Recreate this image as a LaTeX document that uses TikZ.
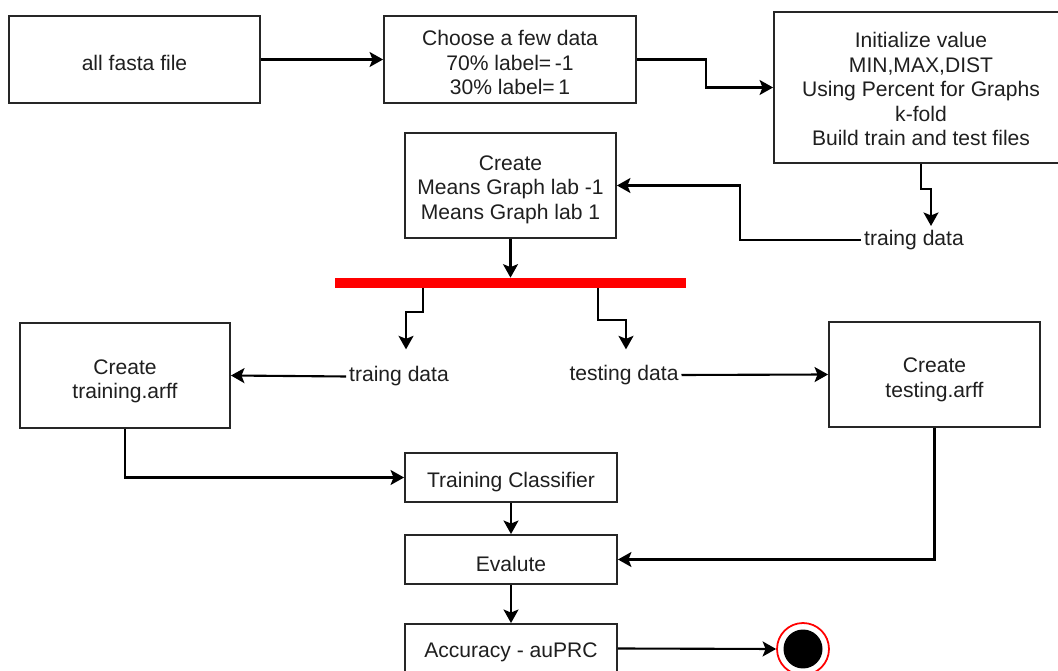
\documentclass[tikz,border=0pt]{standalone}
\usepackage{fontspec}
\setmainfont{Liberation Sans}
\usetikzlibrary{arrows.meta,calc}

\begin{document}
\begin{tikzpicture}[x=0.02cm, y=-0.02cm,
  every node/.style={font=\fontsize{12}{13.9}\selectfont, text=black!88},
  box/.style={draw=black!85, line width=1.1pt, fill=white, inner sep=0pt},
  txt/.style={align=center, inner sep=0pt, yshift=-0.085cm},
  lbl/.style={inner sep=1.5pt},
  arr/.style={draw=black, line width=1.2pt, -{Stealth[length=0.27cm, width=0.3cm, inset=0.06cm]}}]

  \useasboundingbox (0,0) rectangle (1058,671);
  \clip (0,0) rectangle (1058,671);

  % process boxes
  \node[box, minimum width=5.02cm, minimum height=1.74cm] (fasta) at (134.5,59.5) {};
  \node[box, minimum width=5.04cm, minimum height=1.74cm] (choose) at (510,59.5) {};
  \node[box, minimum width=5.88cm, minimum height=3.02cm] (init) at (921,87.5) {};
  \node[box, minimum width=4.22cm, minimum height=2.1cm] (means) at (510.5,185.5) {};
  \node[box, minimum width=4.2cm, minimum height=2.1cm] (trarff) at (125,375.5) {};
  \node[box, minimum width=4.22cm, minimum height=2.1cm] (tsarff) at (934.5,374.5) {};
  \node[box, minimum width=4.24cm, minimum height=0.98cm] (classif) at (511,477.5) {};
  \node[box, minimum width=4.24cm, minimum height=0.98cm] (evalute) at (511,559.5) {};
  \node[box, minimum width=4.24cm, minimum height=0.98cm] (acc) at (511,648.5) {};

  % box texts
  \node[txt, yshift=0.02cm] (fasta-t) at (fasta.center) {all fasta file};
  \node[txt, yshift=0.02cm] (choose-t) at (choose.center) {Choose a few data\\70\% label=\,-1\\30\% label=\,1};
  \node[txt, yshift=0.05cm] (init-t) at (init.center)
    {Initialize value\\MIN,MAX,DIST\\Using Percent for Graphs\\k-fold\\Build train and test files};
  \node[txt] (means-t) at (means.center) {Create\\Means Graph lab -1\\Means Graph lab 1};
  \node[txt, yshift=-0.03cm] (trarff-t) at (trarff.center) {Create\\training.arff};
  \node[txt, yshift=-0.02cm] (tsarff-t) at (tsarff.center) {Create\\testing.arff};
  \node[txt] (classif-t) at (classif.center) {Training Classifier};
  \node[txt] (evalute-t) at (evalute.center) {Evalute};
  \node[txt] (acc-t) at (acc.center) {Accuracy - auPRC};

  % fork bar
  \node[fill=red, minimum width=7.02cm, minimum height=0.2cm, inner sep=0pt] (fork) at (510.5,283) {};

  % data labels
  \node[lbl] (trtop) at (914,240) {traing data};
  \node[lbl] (trmid) at (399,376.5) {traing data};
  \node[lbl] (tsmid) at (624,375) {testing data};

  % final state
  \node[circle, draw=red, line width=1pt, fill=white, minimum size=1.04cm, inner sep=0pt] (final) at (803,649) {};
  \fill[black] (final.center) circle (0.39cm);

  % connectors
  \draw[arr] (fasta.east) -- (choose.west);
  \draw[arr] (choose.east) -- (706,59.5) |- (init.west);
  \draw[arr] (init.south) -- ++(0,25) -- ++(10,0) -- ++(0,37);
  \draw[arr] (trtop.west) -| (740,212) |- (means.east);
  \draw[arr] (means.south) -- (fork.north);
  \draw[arr] ([xshift=-1.75cm]fork.south) -- ++(0,24) -- ++(-17,0) -- ++(0,37);
  \draw[arr] ([xshift=1.75cm]fork.south) -- ++(0,32) -- ++(28,0) -- ++(0,29);
  \draw[arr] (trmid.west) -- (trarff.east);
  \draw[arr] (tsmid.east) -- (tsarff.west);
  \draw[arr] (trarff.south) |- (classif.west);
  \draw[arr] (tsarff.south) |- (evalute.east);
  \draw[arr] (classif.south) -- (evalute.north);
  \draw[arr] (evalute.south) -- (acc.north);
  \draw[arr] (acc.east) -- (final.west);
\end{tikzpicture}
\end{document}
